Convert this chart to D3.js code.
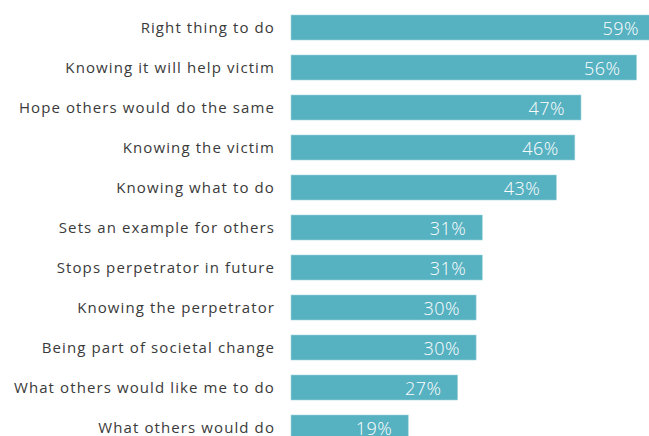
<!DOCTYPE html>
<html>
<head>
<meta charset="utf-8">
<script src="https://cdn.jsdelivr.net/npm/d3@7"></script>
<style>
  body { margin: 0; background: #fff; }
  svg { display: block; }
</style>
</head>
<body>
<div id="chart"></div>
<script>
// data
const categories = [
  "Right thing to do",
  "Knowing it will help victim",
  "Hope others would do the same",
  "Knowing the victim",
  "Knowing what to do",
  "Sets an example for others",
  "Stops perpetrator in future",
  "Knowing the perpetrator",
  "Being part of societal change",
  "What others would like me to do",
  "What others would do"
]
const values = [59, 56, 47, 46, 43, 31, 31, 30, 30, 27, 19]

const width = 649, height = 436
const left = 291

const svg = d3.select("#chart").append("svg")
    .attr("width", width)
    .attr("height", height)

// scales
const xScale = d3.scaleLinear()
    .domain([0, 100])
    .range([left, left + 617])
const yScale = d3.scaleBand()
    .domain(categories)
    .range([15, 440])
    .paddingInner(0.375)
    .paddingOuter(0)

const rows = svg.selectAll(".row")
    .data(categories.map((c, i) => ({cat: c, value: values[i]})))
    .enter()
    .append("g")
    .attr("class", "row")

rows.append("rect")
    .attr("x", xScale(0))
    .attr("y", d => yScale(d.cat))
    .attr("width", d => xScale(d.value) - xScale(0))
    .attr("height", yScale.bandwidth())
    .attr("fill", "#56b1c1")
    .attr("stroke", "#9fd3dc")
    .attr("stroke-width", 0.6)

// category labels (letter-spaced to mimic the wide original face)
rows.append("text")
    .attr("x", left - 16)
    .attr("y", d => yScale(d.cat) + yScale.bandwidth() / 2)
    .attr("dy", "0.35em")
    .attr("text-anchor", "end")
    .attr("font-family", "'Open Sans', sans-serif")
    .attr("font-size", 15)
    .attr("letter-spacing", "1.1px")
    .attr("fill", "#3a3a3a")
    .text(d => d.cat)

rows.append("text")
    .attr("x", d => xScale(d.value) - 16)
    .attr("y", d => yScale(d.cat) + yScale.bandwidth() / 2)
    .attr("dy", "0.4em")
    .attr("text-anchor", "end")
    .attr("font-family", "'Open Sans', sans-serif")
    .attr("font-weight", 300)
    .attr("font-size", 18)
    .attr("letter-spacing", "0.5px")
    .attr("fill", "#fff")
    .text(d => d.value + "%")
</script>
</body>
</html>
